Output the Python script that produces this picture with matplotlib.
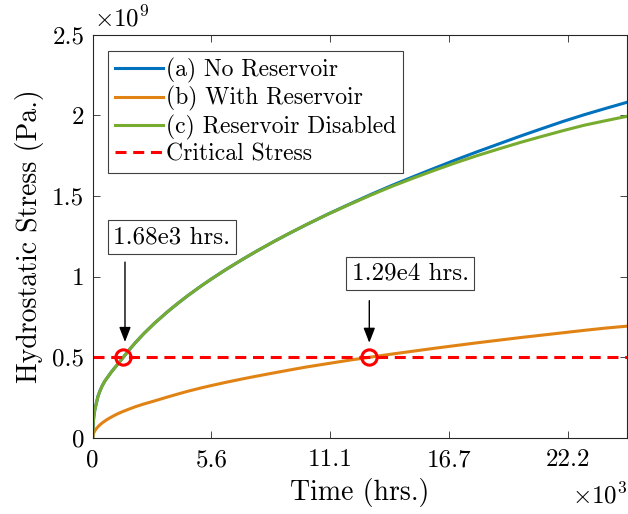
import matplotlib
matplotlib.use("Agg")
import matplotlib.pyplot as plt

plt.rcParams['font.family'] = 'serif'
plt.rcParams['font.serif'] = ['cmr10', 'DejaVu Serif']
plt.rcParams['mathtext.fontset'] = 'cm'
plt.rcParams['axes.unicode_minus'] = False
plt.rcParams['axes.formatter.use_mathtext'] = True

# ---- data (time in hours, stress in units of 1e9 Pa) ----
t_hours = [0, 20, 50, 100, 170, 250, 350, 450, 580, 716, 850, 1000, 1200, 1430, 1700,
           2000, 2400, 2900, 3500, 4000, 4460, 5000, 5550, 6200, 7000, 7700, 8500, 9200,
           10000, 11000, 12000, 13000, 14000, 15000, 16000, 17000, 18000, 19000, 20000,
           21000, 22000, 23000, 24000, 25000]
stress_a = [0, 0.08, 0.13, 0.175, 0.215, 0.26, 0.295, 0.325, 0.355, 0.38, 0.405, 0.43,
            0.462, 0.50, 0.545, 0.591, 0.648, 0.712, 0.782, 0.836, 0.883, 0.935, 0.985,
            1.041, 1.106, 1.160, 1.219, 1.268, 1.322, 1.387, 1.448, 1.508, 1.565, 1.619,
            1.672, 1.724, 1.774, 1.822, 1.870, 1.916, 1.961, 2.003, 2.042, 2.08]
stress_b = [0, 0.02, 0.032, 0.045, 0.058, 0.07, 0.083, 0.094, 0.106, 0.118, 0.128, 0.139,
            0.152, 0.165, 0.179, 0.194, 0.211, 0.23, 0.254, 0.273, 0.29, 0.308, 0.325,
            0.344, 0.366, 0.384, 0.404, 0.421, 0.44, 0.461, 0.482, 0.501, 0.52, 0.538,
            0.556, 0.573, 0.59, 0.606, 0.622, 0.637, 0.652, 0.667, 0.681, 0.693]
stress_c = [0, 0.08, 0.13, 0.175, 0.215, 0.26, 0.295, 0.325, 0.355, 0.38, 0.405, 0.43,
            0.462, 0.50, 0.545, 0.591, 0.648, 0.712, 0.782, 0.836, 0.883, 0.935, 0.985,
            1.041, 1.106, 1.160, 1.219, 1.268, 1.322, 1.386, 1.446, 1.504, 1.559, 1.610,
            1.659, 1.706, 1.750, 1.791, 1.831, 1.868, 1.904, 1.938, 1.966, 1.993]
critical = 0.5
cross_t = [1430, 12940]
cross_labels = ['1.68e3 hrs.', '1.29e4 hrs.']
label_pos_t = [3710, 14853]
label_pos_v = [1.245, 1.02]
arrow_tail_v = [1.09, 0.851]
arrow_tip_v = [0.595, 0.59]
arrow_t = [1511, 12942]

xticks = [0, 50000/9, 100000/9, 150000/9, 200000/9]
xticklabels = ['0', '5.6', '11.1', '16.7', '22.2']
yticks = [0, 0.5, 1.0, 1.5, 2.0, 2.5]
yticklabels = ['0', '0.5', '1', '1.5', '2', '2.5']
series_labels = ['(a) No Reservoir', '(b) With Reservoir', '(c) Reservoir Disabled', 'Critical Stress']

c_blue = '#0072BD'
c_orange = '#E08314'
c_green = '#77AC30'
c_red = '#FF0000'

fig = plt.figure(figsize=(6.28, 5.14), dpi=100)
ax = fig.add_axes([92.7/628, 76/514, 534.3/628, 403.5/514])

ax.plot(t_hours, stress_a, color=c_blue, lw=2.2, label=series_labels[0])
ax.plot(t_hours, stress_b, color=c_orange, lw=2.2, label=series_labels[1])
ax.plot(t_hours, stress_c, color=c_green, lw=2.2, label=series_labels[2])
ax.axhline(critical, color=c_red, lw=2.2, ls=(0, (3.6, 2.2)), label=series_labels[3])

ax.plot(cross_t, [critical]*len(cross_t), 'o', ms=11, mfc='none', mec=c_red, mew=2.2)

for lab, lt, lv, tail, tip, at in zip(cross_labels, label_pos_t, label_pos_v,
                                      arrow_tail_v, arrow_tip_v, arrow_t):
    ax.text(lt, lv, lab, ha='center', va='center', fontsize=18,
            bbox=dict(boxstyle='square,pad=0.22', fc='white', ec='#404040', lw=0.8))
    ax.annotate('', xy=(at, tip), xytext=(at, tail),
                arrowprops=dict(arrowstyle='-|>,head_length=0.9,head_width=0.35',
                                color='k', lw=1, shrinkA=0, shrinkB=0))

ax.set_xlim(0, 25000)
ax.set_ylim(0, 2.5)
ax.set_xticks(xticks)
ax.set_xticklabels(xticklabels)
ax.set_yticks(yticks)
ax.set_yticklabels(yticklabels)
ax.tick_params(direction='in', top=True, right=True, labelsize=18, length=5, width=0.6,
               color='#262626', pad=6)
ax.tick_params(axis='x', pad=8)
for s in ax.spines.values():
    s.set_linewidth(0.8)
    s.set_color('#262626')

ax.set_xlabel('Time (hrs.)', fontsize=20, labelpad=5)
ax.set_ylabel('Hydrostatic Stress (Pa.)', fontsize=20, labelpad=6)

fig.text(94/628, 1 - 26/514, r'$\times10^9$', fontsize=18, ha='left', va='baseline')
fig.text(628/628, 1 - 503/514, r'$\times10^3$', fontsize=18, ha='right', va='baseline')

leg = ax.legend(loc='upper left', bbox_to_anchor=(0.029, 0.96), borderaxespad=0,
                fontsize=17, frameon=True, fancybox=False, framealpha=1,
                edgecolor='#404040', handlelength=2.0, handletextpad=0.15,
                labelspacing=0.15, borderpad=0.3)
leg.get_frame().set_linewidth(0.8)

fig.savefig('out.png', dpi=100)
